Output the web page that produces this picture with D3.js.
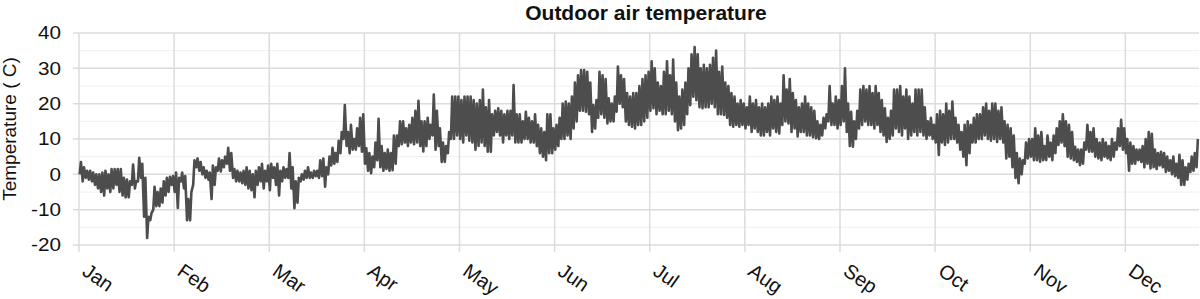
<!DOCTYPE html>
<html>
<head>
<meta charset="utf-8">
<script src="https://cdn.jsdelivr.net/npm/d3@7"></script>
<style>
  body { margin: 0; background: #fff; }
  svg { display: block; font-family: "Liberation Sans", Arial, sans-serif; }
</style>
</head>
<body>
<svg width="1200" height="299"></svg>
<script>
// month tick labels (one tick every 744 hours)
let months = ["Jan", "Feb", "Mar", "Apr", "May", "Jun", "Jul", "Aug", "Sep", "Oct", "Nov", "Dec"];
let yTicks = [40, 30, 20, 10, 0, -10, -20];

// daily low / high temperature (deg C), day 0..364
let dailyLow = [
  0,-2,-1,-1.5,-2,-3,-4,-5,-6,-4, -5,-4,-3,-5,-6,-6.5,-6.5,-3,-4,-2,
  -1,-12,-18,-13,-10,-9,-9,-8,-6,-5, -3,-5,-9.5,-2,-4,-13,-13,-3,2,1,
  0,-1,-1.5,-7,-3, 1,0.8,2,3,1, -1,-2,-2,-2.5,-3,-4,-4.5,-6.5,-3,-2,
  -4,-2,-4.5,-1,-3,-6,-2,-1,-1,-4, -9.6,-8,-2,-1.5,-1,-1,-1,-0.5,-1,-0.5,
  -3.5,0,2.5,3,3.5,6,10,8,6,7, 7,8,6.4,3,1,0.3,2,4,2,1,
  1.5,1,1.2,3,8,8.5,9,8,9,8.5, 9,8,6.5,8,10,11,7,8,3.5,3.5,
  6,10,10,11,10,9,11,9.5,9,7, 8,9,8,6.4,6.4,11,12,11,9,11,
  10,11,9,9,9,10,10,9,9,8, 6,5,4,6,6,7,8,10,10,11,
  10,13,15,18,18,17.7,17,12,13,16, 17,16,14.4,15,15,17.7,20,19,15,14,
  13.5,13,14,14,15,16,18,18.7,17,18, 17,17,18,17,15,12.5,13,14,17,19.6,
  22,21,19,18.7,19,19,20,19,17,17, 16.8,16,14,13.5,14,13.5,14,13,14,12,
  13,12,11,11,12,11,13,12,11.6,14, 15,14.4,12,13,10.7,12,12,11,11,10.5,
  10.2,10,11,13,15,14,14,13,14,15, 12,8,7.8,10,13,14,15,14,14,13,
  14,12,11,9.2,10,11,13,12,11,13, 10,11,12,11,12,11,10,11,10,9,
  5.5,9,8.3,9,10,10,9,7,5,2.6, 6,9,9,10,10,11,10,9.5,10,9.2,
  10,9,4.5,5,2,-1,-2.5,0,3,4.5, 5,4,4,3.6,4,4,5,4,6,8.3,
  9,8,5,4.5,4,3.5,2.6,3,7,6.4, 6.4,5,4.5,4,5,4.5,4,5,7,8,
  7,6,1,3,3,4,3.5,2,3,1.7, 2,1.5,2.5,2,0.7,1,0,-0.5,-1,-3,
  -3,-1.5,0.7,1,2
];
let dailyHigh = [
  3.5,2,1,1,0.5,0,0,0.5,1,0, 1.5,1.5,1.5,1.5,-1,-1.5,-2,2.8,-2,4.7,
  3,-1,-12,-11,-3.5,-5,-4,-2,-1,-0.7, -0.5,0.5,-1,0.5,-0.5,-7,-5,4,4.5,3.5,
  2,1,0.5,2.5,2, 4.5,4,5,7.5,6, 1.5,1,0.5,1,2,1,0,1,2,3,
  1,2.5,3,2,3,1,2,1.5,6,2, -2,-1,0,1,2,0.5,1,1,4,4.5,
  2,5,7.5,6,9.5,12,19.6,12,14,10, 13,16,17,7.4,6,5,9,15.7,8,6,
  7,6,11,11,15,15,13,14,16,18, 20.8,15,15,16,14,22.6,18,13,9,8,
  12,22,22,22,21,22,22,22,21,20, 21,24,19,21,17,18,18.7,18,17,18,
  18,25.3,17,17,15,17.7,16,15,17,14, 13,12,17,17,13,14,16,20,20.6,20,
  22,26,28,29.5,29.5,29,26,19.6,21,29, 28,27,21.5,20,22,30.5,28,27,23,22,
  23,23,25,27,28,29,32,30,26,25, 29,32,28,32.5,26,22,24,26,30,34,
  36,34,30,31,30,31,33,35,29,30.5, 26,25,23,22,20,21,20,19,22,20,
  21,19,20,19,20,22,21,22,20,28, 24,27,23,21,19,20,22,20,19,18,
  15,14,16,17,25,20,22,21,25,30, 20,17.7,15,18,24,25,24,25,23,25,
  23,21,18.7,16,18,24,24,25,22,24, 22,20,24,24,24,19,15,16,14,17,
  18,17,20,18,20.6,16,14,12,14,15, 14,16,17,17,19,20,18,20,20,18,
  19,15,14,13,11,6,4.5,4,9,10, 10,13,11,12,8,11,9,11,13,15,
  17,15,14,12,7.8,7,7,9,14,12, 13,10,9,10,9,8,10,9,13,15.4,
  13,10,9,8,7,7,8,10,12,11.5, 7,6,6.4,6,5,4,5,3,5.5,4,
  2,3,5,6,10
];

// one low and one high point per day, placed by hour of year
let series = [];
dailyLow.forEach(function(lo, d) {
  series.push({hour: d * 24 + 5, temp: lo});
  series.push({hour: d * 24 + 15, temp: dailyHigh[d]});
});

let svg = d3.select("svg");
let margin = {top: 33, right: 1, bottom: 54, left: 79};
let width = 1200 - margin.left - margin.right;
let height = 299 - margin.top - margin.bottom;

let x = d3.scaleLinear().domain([0, 8760]).range([0, width]);
let y = d3.scaleLinear().domain([-20, 40]).range([height, 0]);

let plot = svg.append("g")
  .attr("transform", "translate(" + margin.left + "," + margin.top + ")");

// minor gridlines at the 5s
plot.append("g").selectAll("line")
  .data(d3.range(-15, 40, 10))
  .join("line")
  .attr("x1", 0).attr("x2", width)
  .attr("y1", d => y(d)).attr("y2", d => y(d))
  .attr("stroke", "#f0f0f0").attr("stroke-width", 1);

// major gridlines
plot.append("g").selectAll("line")
  .data(yTicks)
  .join("line")
  .attr("x1", -6).attr("x2", width)
  .attr("y1", d => y(d)).attr("y2", d => y(d))
  .attr("stroke", "#dcdcdc").attr("stroke-width", 1.5);

// month gridlines, with a short tick below the axis
let monthTicks = months.map((m, i) => i * 744);
plot.append("g").selectAll("line")
  .data(monthTicks)
  .join("line")
  .attr("x1", d => x(d)).attr("x2", d => x(d))
  .attr("y1", 0).attr("y2", height + 7)
  .attr("stroke", "#dcdcdc").attr("stroke-width", 1.5);

// y tick labels (a little wide, as in the original)
plot.append("g").selectAll("text")
  .data(yTicks)
  .join("text")
  .attr("transform", d => "translate(-18," + y(d) + ") scale(1.15,1)")
  .attr("dy", "0.36em")
  .attr("text-anchor", "end")
  .attr("font-size", 18)
  .attr("fill", "#111")
  .text(d => d);

// month labels, rotated
plot.append("g").selectAll("text")
  .data(months)
  .join("text")
  .attr("transform", (d, i) => "translate(" + (x(monthTicks[i]) + 2) + "," + (height + 29) + ") rotate(35)")
  .attr("font-size", 20)
  .attr("fill", "#111")
  .text(d => d);

// temperature line
let line = d3.line()
  .x(d => x(d.hour))
  .y(d => y(d.temp));
plot.append("path")
  .datum(series)
  .attr("d", line)
  .attr("fill", "none")
  .attr("stroke", "#4d4d4d")
  .attr("stroke-width", 2.6)
  .attr("stroke-linejoin", "round");

// titles
svg.append("text")
  .attr("x", 646).attr("y", 20)
  .attr("text-anchor", "middle")
  .attr("font-size", 21)
  .attr("font-weight", "bold")
  .attr("fill", "#111")
  .text("Outdoor air temperature");

svg.append("text")
  .attr("transform", "translate(15.6,129) rotate(-90)")
  .attr("text-anchor", "middle")
  .attr("font-size", 19)
  .attr("fill", "#111")
  .text("Temperature ( C)");
</script>
</body>
</html>
